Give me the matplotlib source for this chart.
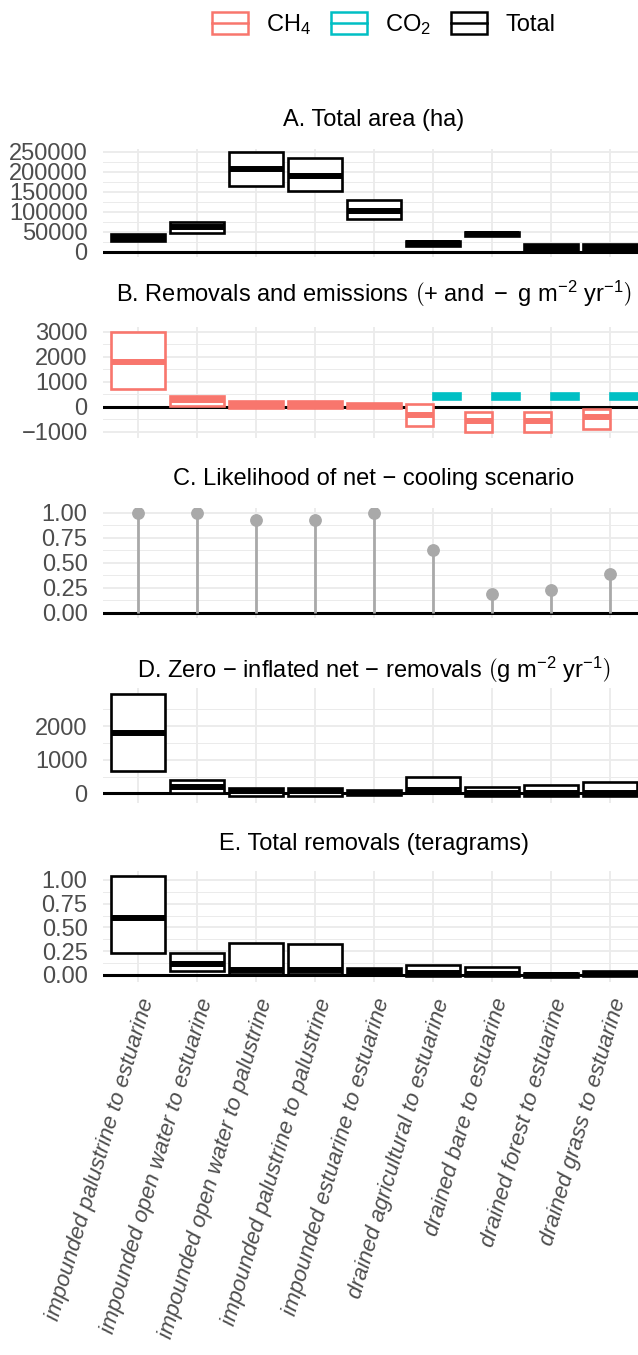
import numpy as np
import matplotlib
matplotlib.use("Agg")
import matplotlib.pyplot as plt
from matplotlib.patches import Patch, Rectangle
from matplotlib.lines import Line2D
from matplotlib.legend_handler import HandlerBase

plt.rcParams['font.family'] = ['Liberation Sans', 'DejaVu Sans']
plt.rcParams['mathtext.fontset'] = 'custom'
plt.rcParams['mathtext.rm'] = 'Liberation Sans'
plt.rcParams['mathtext.it'] = 'Liberation Sans:italic'
plt.rcParams['mathtext.bf'] = 'Liberation Sans:bold'

categories = [
    "impounded palustrine to estuarine",
    "impounded open water to estuarine",
    "impounded open water to palustrine",
    "impounded palustrine to palustrine",
    "impounded estuarine to estuarine",
    "drained agricultural to estuarine",
    "drained bare to estuarine",
    "drained forest to estuarine",
    "drained grass to estuarine",
]

# A. total area (ha): lower / median / upper
area_lo = [27500, 47000, 165000, 151000, 81750, 15000, 38500, 4000, 4000]
area_med = [35000, 61000, 206000, 190000, 101000, 21000, 44000, 11000, 11000]
area_hi = [43500, 75000, 249000, 233500, 128500, 27000, 50000, 18500, 18500]

# B. removals / emissions (g m-2 yr-1)
ch4_lo = [720, 20, -70, -70, -40, -785, -1030, -1000, -895]
ch4_med = [1800, 250, 80, 80, 40, -330, -585, -560, -400]
ch4_hi = [2980, 430, 230, 230, 140, 120, -210, -200, -105]
co2_lo = [np.nan, np.nan, np.nan, np.nan, np.nan, 320, 320, 320, 320]
co2_med = [np.nan, np.nan, np.nan, np.nan, np.nan, 430, 430, 430, 430]
co2_hi = [np.nan, np.nan, np.nan, np.nan, np.nan, 540, 540, 540, 540]

# C. likelihood of net-cooling
likelihood = [1.00, 1.00, 0.93, 0.93, 1.00, 0.63, 0.19, 0.23, 0.39]

# D. zero-inflated net removals (g m-2 yr-1)
net_lo = [670, 0, -70, -70, -50, 10, -90, -90, -90]
net_med = [1800, 190, 60, 55, 20, 100, 20, 20, 20]
net_hi = [2960, 390, 170, 165, 90, 495, 200, 235, 330]

# E. total removals (Tg)
tot_lo = [0.23, 0.04, 0.005, 0.005, 0.01, -0.01, -0.015, -0.018, -0.015]
tot_med = [0.60, 0.12, 0.055, 0.055, 0.04, 0.02, 0.01, 0.0, 0.01]
tot_hi = [1.04, 0.23, 0.34, 0.33, 0.075, 0.10, 0.088, 0.025, 0.04]

CH4_COL = '#F8766D'
CO2_COL = '#00BFC4'
GRID = '#EBEBEB'
TXT = '#4D4D4D'
FS = 17

W, H = 638, 1355
fig = plt.figure(figsize=(W / 100, H / 100), dpi=100)
x = np.arange(1, len(categories) + 1)


def panel(top, bottom, ylim, major, labels, minor):
    ax = fig.add_axes([102.6 / W, 1 - bottom / H, (645.4 - 102.6) / W, (bottom - top) / H])
    ax.set_xlim(0.4, 9.6)
    ax.set_ylim(*ylim)
    for s in ax.spines.values():
        s.set_visible(False)
    ax.set_xticks(x)
    ax.set_xticklabels([])
    ax.set_yticks(major)
    ax.set_yticklabels(labels)
    ax.set_yticks(minor, minor=True)
    ax.grid(which='major', color=GRID, lw=1.3)
    ax.grid(which='minor', axis='y', color=GRID, lw=0.7)
    ax.tick_params(which='both', length=0)
    ax.tick_params(labelsize=FS, labelcolor=TXT, pad=10.8)
    ax.set_axisbelow(True)
    ax.axhline(0, color='black', lw=2.2, zorder=1.5)
    return ax


def crossbar(ax, xs, lo, med, hi, width, color):
    lo, med, hi = np.asarray(lo), np.asarray(med), np.asarray(hi)
    ax.bar(xs, hi - lo, bottom=lo, width=width, facecolor='white',
           edgecolor=color, lw=1.9, zorder=2)
    ax.hlines(med, xs - width / 2, xs + width / 2, color=color, lw=4.3, zorder=3,
              capstyle='butt')


def title(y, text):
    fig.text(374 / W, 1 - y / H, text, ha='center', va='baseline', fontsize=FS)


# A
axA = panel(148.8, 256.6, (-12250, 257250), [0, 50000, 100000, 150000, 200000, 250000],
            ['0', '50000', '100000', '150000', '200000', '250000'],
            [25000, 75000, 125000, 175000, 225000])
crossbar(axA, x, area_lo, area_med, area_hi, 0.9, 'black')
title(126, "A. Total area (ha)")

# B
axB = panel(327.2, 438.0, (-1250, 3180), [-1000, 0, 1000, 2000, 3000],
            ['\u22121000', '0', '1000', '2000', '3000'], [-500, 500, 1500, 2500])
has_co2 = ~np.isnan(np.asarray(co2_med))
ch4_x = np.where(has_co2, x - 0.225, x)
ch4_w = np.where(has_co2, 0.45, 0.9)
crossbar(axB, ch4_x, ch4_lo, ch4_med, ch4_hi, ch4_w, CH4_COL)
crossbar(axB, x[has_co2] + 0.225, np.asarray(co2_lo)[has_co2], np.asarray(co2_med)[has_co2],
         np.asarray(co2_hi)[has_co2], 0.45, CO2_COL)
title(301.7, r"B. Removals and emissions $\left(+\ \mathrm{and}\ -\ \mathrm{g\ m}^{-2}\ \mathrm{yr}^{-1}\right)$")

# C
axC = panel(507.7, 617.7, (-0.05, 1.05), [0, 0.25, 0.5, 0.75, 1.0],
            ['0.00', '0.25', '0.50', '0.75', '1.00'], [0.125, 0.375, 0.625, 0.875])
axC.vlines(x, 0, likelihood, color='#A9A9A9', lw=2.0, zorder=2)
axC.plot(x, likelihood, 'o', ms=8.2, color='#A9A9A9', zorder=3)
title(485, "C. Likelihood of net \u2212 cooling scenario")

# D
axD = panel(687.8, 802.6, (-275, 3135), [0, 1000, 2000], ['0', '1000', '2000'],
            [500, 1500, 2500])
crossbar(axD, x, net_lo, net_med, net_hi, 0.9, 'black')
title(678.3, r"D. Zero $-$ inflated net $-$ removals $\left(\mathrm{g\ m}^{-2}\ \mathrm{yr}^{-1}\right)$")

# E
axE = panel(871.4, 982.1, (-0.075, 1.09), [0, 0.25, 0.5, 0.75, 1.0],
            ['0.00', '0.25', '0.50', '0.75', '1.00'], [0.125, 0.375, 0.625, 0.875])
crossbar(axE, x, tot_lo, tot_med, tot_hi, 0.9, 'black')
title(850, "E. Total removals (teragrams)")
axE.set_xticklabels(categories, rotation=73.5, ha='right', va='top',
                    rotation_mode='anchor', fontstyle='italic', fontsize=16)
axE.tick_params(axis='x', pad=10)


class CrossbarKey(HandlerBase):
    def create_artists(self, legend, orig_handle, xdescent, ydescent, width, height,
                       fontsize, trans):
        c = orig_handle.get_edgecolor()
        r = Rectangle((-xdescent, -ydescent), width, height, facecolor='white',
                      edgecolor=c, lw=1.8, transform=trans)
        ln = Line2D([-xdescent, -xdescent + width], [-ydescent + height / 2] * 2,
                    color=c, lw=1.8, transform=trans)
        return [r, ln]


handles = [Patch(edgecolor=CH4_COL, facecolor='white', label=r'CH$_4$'),
           Patch(edgecolor=CO2_COL, facecolor='white', label=r'CO$_2$'),
           Patch(edgecolor='black', facecolor='white', label='Total')]
em = FS * 100 / 72
fig.legend(handles=handles, handler_map={Patch: CrossbarKey()}, loc='center',
           bbox_to_anchor=(383.5 / W, 1 - 24.5 / H), ncol=3, frameon=False, fontsize=FS,
           handlelength=36 / em, handleheight=24 / em, handletextpad=18 / em,
           columnspacing=20 / em, borderpad=0, borderaxespad=0)

fig.savefig('out.png', dpi=100)
